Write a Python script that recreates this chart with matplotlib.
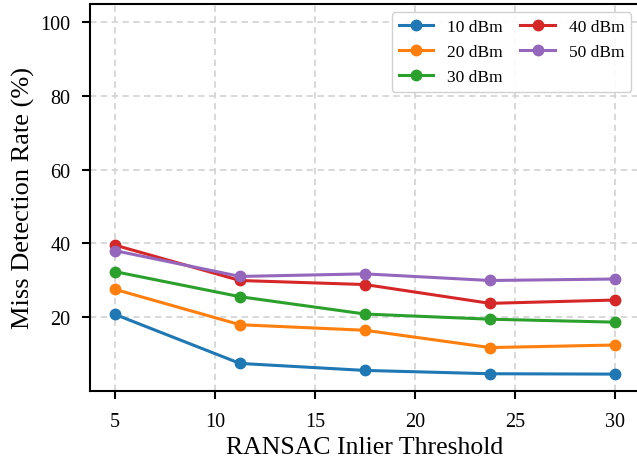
import numpy as np
import matplotlib
matplotlib.use("Agg")
import matplotlib.pyplot as plt

plt.rcParams['font.family'] = ['Liberation Serif', 'DejaVu Serif']

thresholds = [5, 11.25, 17.5, 23.75, 30]
labels = ["10 dBm", "20 dBm", "30 dBm", "40 dBm", "50 dBm"]
miss_10 = [20.7, 7.4, 5.5, 4.6, 4.5]
miss_20 = [27.5, 17.9, 16.4, 11.7, 12.4]
miss_30 = [32.3, 25.5, 20.8, 19.4, 18.6]
miss_40 = [39.5, 29.9, 28.8, 23.7, 24.6]
miss_50 = [38.0, 31.0, 31.7, 29.9, 30.3]
colors = ["#1f77b4", "#ff7f0e", "#2ca02c", "#d62728", "#9467bd"]

W, H = 637, 464
fig = plt.figure(figsize=(W / 100, H / 100), dpi=100)
# axes box in pixels: left 90, bottom 391.7, top 4.7, right edge runs just past the figure
ax = fig.add_axes([90 / W, (H - 391.7) / H, 550 / W, (391.7 - 4.7) / H])

for vals, lab, c in zip([miss_10, miss_20, miss_30, miss_40, miss_50], labels, colors):
    ax.plot(thresholds, vals, marker="o", markersize=7.5, linewidth=2.2, color=c, label=lab)

ax.set_xlim(3.75, 31.25)
ax.set_ylim(0, 105)
ax.set_yticks([20, 40, 60, 80, 100])
ax.set_xticks([5, 10, 15, 20, 25, 30])
ax.grid(True, linestyle=(0, (3.5, 2.5)), color="#d5d5d5", linewidth=1.3)
ax.set_axisbelow(True)
for s in ax.spines.values():
    s.set_linewidth(1.5)
ax.tick_params(labelsize=14.5, width=1.5, length=6)
ax.tick_params(axis="y", pad=8)
ax.tick_params(axis="x", pad=9)
ax.set_xlabel("RANSAC Inlier Threshold", fontsize=18.5)
ax.set_ylabel("Miss Detection Rate (%)", fontsize=19)
leg = ax.legend(ncol=2, loc="upper right", fontsize=12.5,
                columnspacing=1.0, handlelength=2.0, fancybox=True, framealpha=0.9)
leg.get_frame().set_edgecolor("#cccccc")
plt.savefig("out.png")
